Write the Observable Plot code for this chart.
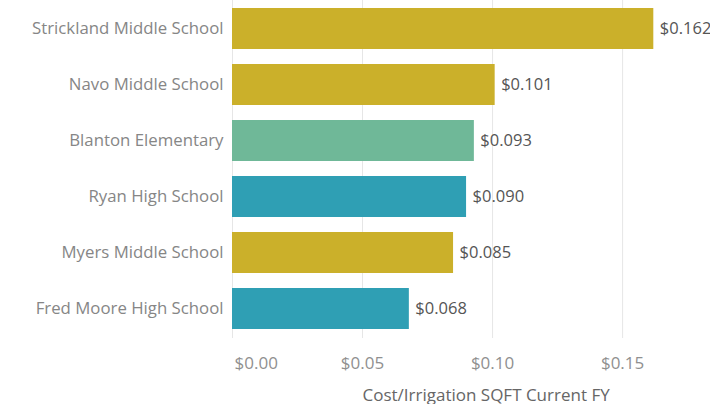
<!DOCTYPE html>
<html>
<head>
<meta charset="utf-8">
<script src="https://cdn.jsdelivr.net/npm/d3@7"></script>
<script src="https://cdn.jsdelivr.net/npm/@observablehq/plot@0.6"></script>
<style>
  html, body { margin: 0; padding: 0; background: #fff; overflow: hidden; }
  #chart svg { display: block; }
</style>
</head>
<body>
<div id="chart"></div>
<script>
const schools = ["Strickland Middle School", "Navo Middle School", "Blanton Elementary", "Ryan High School", "Myers Middle School", "Fred Moore High School"];
const costs = [0.162, 0.101, 0.093, 0.090, 0.085, 0.068];
const levels = ["Middle", "Middle", "Elementary", "High", "Middle", "High"];
const levelNames = ["Middle", "Elementary", "High"];
const levelColors = ["#cbb02a", "#6fb898", "#2f9fb4"];
const xTicks = [0, 0.05, 0.10, 0.15];

const data = schools.map((s, i) => ({school: s, cost: costs[i], level: levels[i]}));
const fmt = d3.format("$.3f");
const tickFmt = d3.format("$.2f");

const chart = Plot.plot({
  width: 710,
  height: 404,
  marginLeft: 232,
  marginRight: 0,
  marginTop: 0,
  marginBottom: 66,
  style: {fontFamily: "'Open Sans', sans-serif", background: "#fff", overflow: "visible"},
  x: {domain: [0, 0.1838], ticks: xTicks, tickFormat: tickFmt, label: null},
  y: {domain: schools, paddingInner: 0.26, paddingOuter: 0.13, label: null},
  color: {domain: levelNames, range: levelColors},
  marks: [
    Plot.gridX(xTicks, {stroke: "#e6e6e6", strokeOpacity: 1, strokeWidth: 1}),
    Plot.ruleY([0], {frameAnchor: "bottom", stroke: "#ececec"}),
    Plot.barX(data, {x: "cost", y: "school", fill: "level"}),
    Plot.text(data, {x: "cost", y: "school", text: d => fmt(d.cost), textAnchor: "start", dx: 6, fill: "#555", fontSize: 16.5}),
    Plot.axisY({tickSize: 0, tickPadding: 9, fontSize: 16.8, color: "#868686", label: null}),
    Plot.axisX(xTicks.slice(1), {tickSize: 0, tickPadding: 18, fontSize: 17, color: "#909090", tickFormat: tickFmt, label: null}),
    Plot.axisX(xTicks.slice(0, 1), {tickSize: 0, tickPadding: 18, fontSize: 17, color: "#909090", tickFormat: tickFmt, textAnchor: "start", dx: 2, label: null}),
    Plot.text(["Cost/Irrigation SQFT Current FY"], {frameAnchor: "bottom", x: 0.0975, dy: 62, fontSize: 17, fill: "#666"})
  ]
});
document.getElementById("chart").appendChild(chart);
</script>
</body>
</html>
